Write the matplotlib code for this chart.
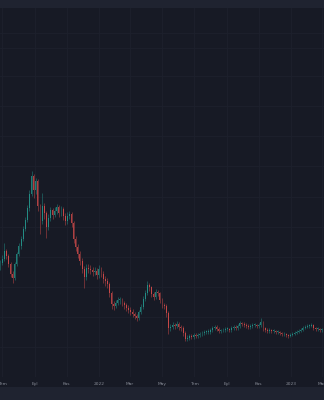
import matplotlib
matplotlib.use("Agg")
import matplotlib.pyplot as plt
import matplotlib.dates as mdates
import pandas as pd
from matplotlib.patches import Rectangle

# candles every 4 days, prices in arbitrary units (no price scale visible)
START = "2021-06-27"
OPEN = [134, 138, 142, 150, 145, 137, 127, 123, 137, 147, 155, 162, 172, 181, 193, 207,
        224, 210, 219, 195, 180, 195, 188, 174, 183, 191, 186, 190, 194, 188, 192, 185,
        180, 185, 187, 178, 162, 154, 147, 140, 132, 124, 133, 132, 131, 129, 130, 126,
        132, 127, 122, 120, 117, 108, 97, 95, 98, 101, 101, 98, 96, 93, 91, 89,
        87, 85, 83, 89, 94, 102, 108, 116, 114, 107, 104, 109, 108, 101, 96, 95,
        88, 73, 74, 76, 75, 77, 74, 73, 68, 62, 63, 65, 64, 66, 65, 66,
        67, 68, 69, 69, 69, 71, 73, 74, 72, 70, 70, 71, 72, 72, 71, 73,
        74, 73, 75, 78, 77, 76, 75, 74, 75, 76, 76, 75, 76, 79, 73, 71,
        70, 71, 70, 70, 69, 69, 68, 67, 67, 66, 65, 66, 67, 68, 69, 70,
        71, 73, 74, 75, 75, 76, 73, 72, 72, 71, 71]
CLOSE = [138, 142, 150, 145, 137, 127, 123, 137, 147, 155, 162, 172, 181, 193, 207, 224,
         210, 219, 195, 180, 195, 188, 174, 183, 191, 186, 190, 194, 188, 192, 185, 180,
         185, 187, 178, 162, 154, 147, 140, 132, 124, 133, 132, 131, 129, 130, 126, 132,
         127, 122, 120, 117, 108, 97, 95, 98, 101, 101, 98, 96, 93, 91, 89, 87,
         85, 83, 89, 94, 102, 108, 116, 114, 107, 104, 109, 108, 101, 96, 95, 88,
         73, 74, 76, 75, 77, 74, 73, 68, 62, 63, 65, 64, 66, 65, 66, 67,
         68, 69, 69, 69, 71, 73, 74, 72, 70, 70, 71, 72, 72, 71, 73, 74,
         73, 75, 78, 77, 76, 75, 74, 75, 76, 76, 75, 76, 79, 73, 71, 70,
         71, 70, 70, 69, 69, 68, 67, 67, 66, 65, 66, 67, 68, 69, 70, 71,
         73, 74, 75, 75, 76, 73, 72, 72, 71, 71, 70]
HIGH = [141, 146, 158, 152, 147, 139, 130, 139, 149, 158, 165, 175, 184, 196, 210, 229,
        226, 222, 221, 197, 208, 198, 190, 187, 194, 193, 194, 197, 196, 195, 194, 188,
        189, 190, 189, 180, 165, 157, 150, 143, 135, 137, 137, 136, 134, 134, 133, 136,
        134, 130, 125, 123, 119, 110, 100, 101, 104, 104, 103, 100, 98, 96, 94, 92,
        89, 87, 91, 97, 105, 111, 120, 118, 115, 109, 112, 111, 109, 103, 98, 97,
        90, 77, 79, 78, 80, 79, 76, 75, 70, 66, 67, 67, 68, 68, 68, 69,
        70, 71, 71, 72, 73, 75, 76, 76, 74, 72, 73, 74, 74, 73, 75, 76,
        76, 77, 80, 79, 79, 78, 77, 77, 78, 78, 77, 78, 83, 80, 74, 73,
        73, 72, 72, 71, 71, 70, 69, 69, 68, 67, 68, 69, 70, 71, 72, 73,
        75, 76, 77, 77, 78, 77, 74, 74, 73, 73, 72]
LOW = [131, 136, 140, 142, 134, 124, 118, 121, 135, 145, 152, 160, 170, 179, 190, 205,
       203, 207, 190, 167, 177, 182, 163, 171, 180, 182, 184, 187, 184, 185, 181, 176,
       177, 182, 174, 158, 150, 143, 136, 128, 113, 121, 128, 127, 125, 126, 122, 123,
       124, 118, 115, 113, 104, 92, 91, 93, 96, 97, 95, 92, 90, 88, 86, 84,
       82, 80, 81, 87, 92, 100, 106, 110, 104, 101, 102, 105, 98, 93, 92, 84,
       67, 70, 72, 72, 73, 71, 70, 65, 60, 60, 61, 62, 62, 63, 63, 64,
       65, 66, 67, 67, 67, 69, 71, 70, 68, 68, 69, 69, 70, 69, 69, 71,
       71, 71, 73, 75, 74, 73, 72, 72, 73, 74, 73, 73, 74, 70, 69, 68,
       68, 68, 68, 67, 67, 66, 65, 65, 64, 63, 64, 65, 66, 67, 68, 69,
       70, 72, 73, 73, 74, 71, 70, 70, 69, 69, 68]

TICK_DATES = ["2021-07-01", "2021-09-01", "2021-11-01", "2022-01-01", "2022-03-01",
              "2022-05-01", "2022-07-01", "2022-09-01", "2022-11-01", "2023-01-01",
              "2023-03-01"]
TICK_LABELS = ["Tem", "Eyl", "Kas", "2022", "Mar", "May", "Tem", "Eyl", "Kas", "2023", "Mar"]
PRICE_GRID = [54, 84, 114, 144, 174, 204, 234, 264, 294, 324, 352, 367]

BG = "#171a25"
BAND = "#1f2330"
GRID = "#1d212d"
UP = "#26a69a"
DOWN = "#ef5350"

dates = pd.date_range(START, periods=len(CLOSE), freq="4D")
x = mdates.date2num(dates)

fig = plt.figure(figsize=(3.24, 4.0), dpi=100, facecolor=BAND)
fig.patches.append(Rectangle((0, 13 / 400), 1, 379 / 400, transform=fig.transFigure,
                             facecolor=BG, edgecolor="none", zorder=-10))
ax = fig.add_axes([0, 23 / 400, 1, 369 / 400])
ax.set_zorder(5)
ax.set_facecolor(BG)

for xi, o, h, l, c in zip(x, OPEN, HIGH, LOW, CLOSE):
    color = UP if c >= o else DOWN
    ax.vlines(xi, l, h, color=color, linewidth=0.4, alpha=0.7, zorder=3)
    ax.bar(xi, max(abs(c - o), 0.5), bottom=min(o, c), width=1.8, color=color,
           linewidth=0, alpha=0.7, zorder=3)

ticks = mdates.date2num(pd.to_datetime(TICK_DATES))
ax.set_xticks(ticks)
ax.set_xticklabels(TICK_LABELS)
ax.set_yticks(PRICE_GRID)
ax.grid(True, color=GRID, linewidth=0.6, zorder=0)
ax.tick_params(axis="x", length=0, pad=3.5, labelsize=3.2, labelcolor="#868a95")
ax.tick_params(axis="y", length=0, labelleft=False)
for s in ax.spines.values():
    s.set_visible(False)

ax.set_xlim(mdates.date2num(pd.Timestamp("2021-06-27")),
            mdates.date2num(pd.Timestamp("2023-03-05")))
ax.set_ylim(24, 392)

fig.savefig("out.png", dpi=100, facecolor=BAND)
